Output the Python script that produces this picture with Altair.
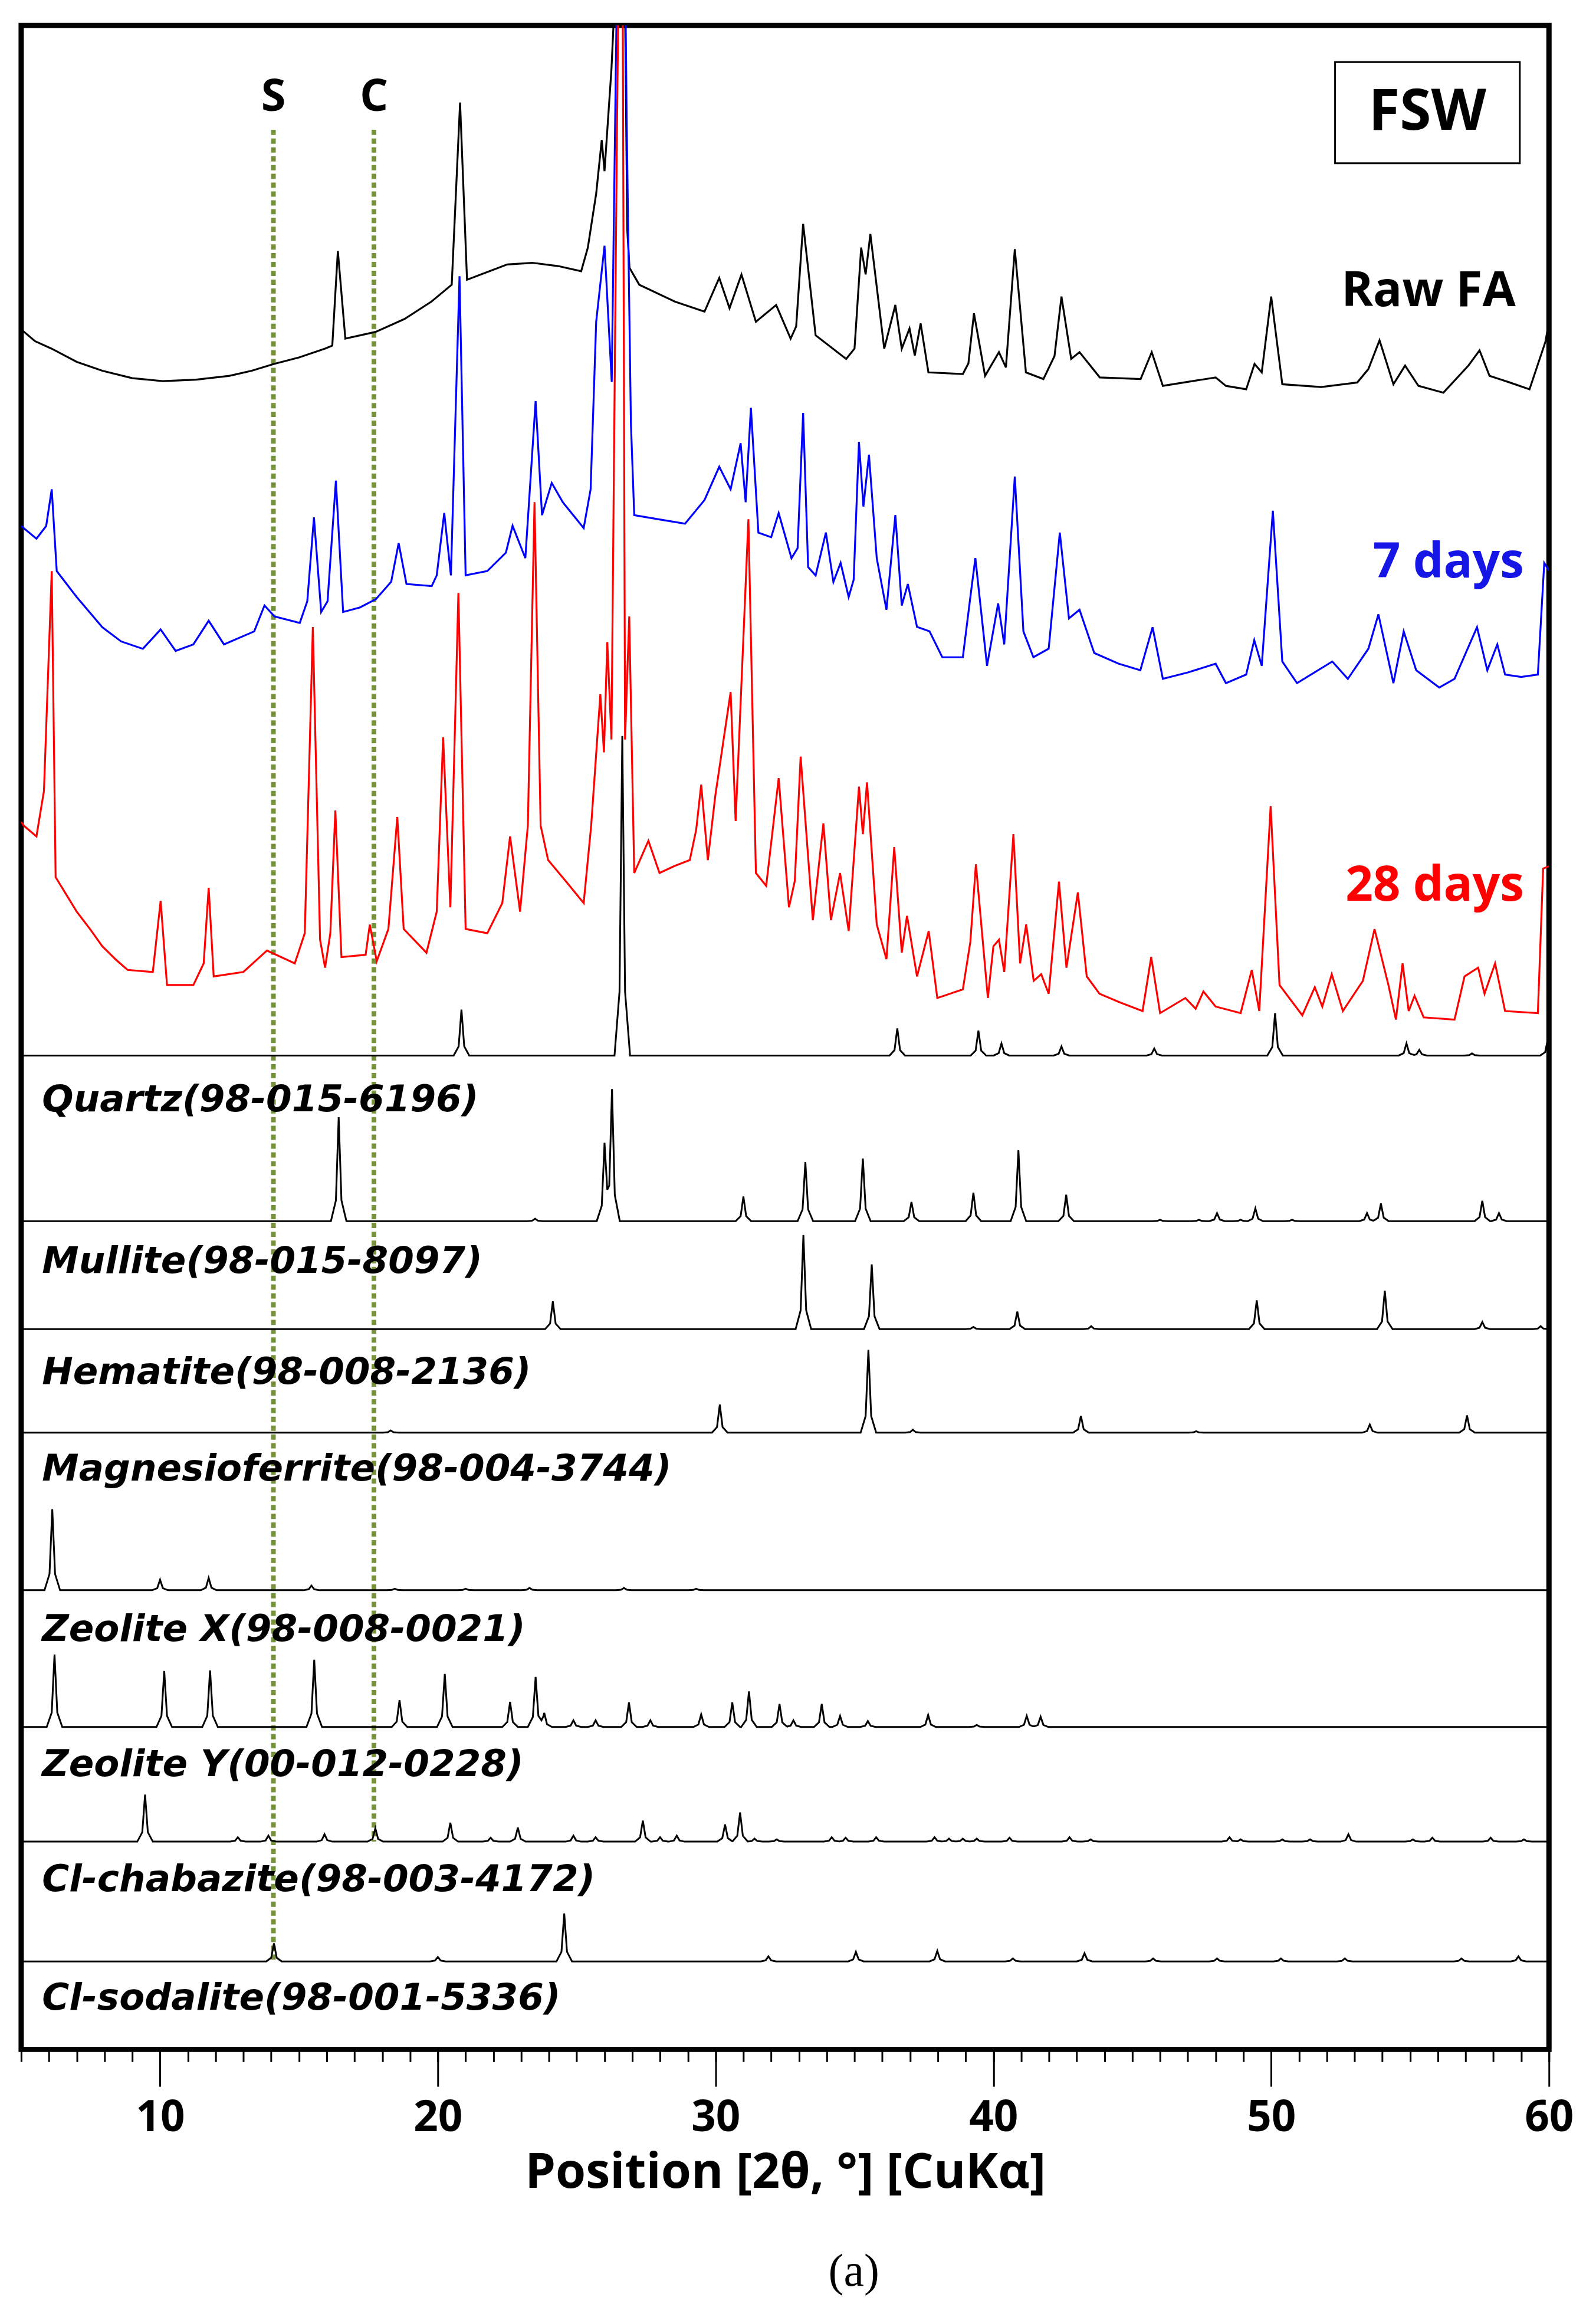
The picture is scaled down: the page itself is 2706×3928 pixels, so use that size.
import altair as alt
import numpy as np
import pandas as pd

# ---------------- experimental patterns (2theta, offset intensity in plot units) ----------------
raw_fa_x = [5.0, 5.5, 6.09, 7.0, 7.92, 9.0, 10.1, 11.3, 12.5, 13.3, 14.1, 15.0, 15.94, 16.2, 16.4, 16.67, 17.76,
            18.8, 19.77, 20.5, 20.8, 21.05, 22.5, 23.4, 24.33, 25.16, 25.4, 25.7, 25.9, 26.0, 26.25, 26.45,
            26.62, 26.82, 26.9, 27.25, 28.53, 29.6, 30.13, 30.5, 30.93, 31.45, 32.18, 32.7, 32.9, 33.15, 33.6,
            34.7, 35.0, 35.24, 35.4, 35.57, 36.07, 36.47, 36.7, 36.98, 37.17, 37.38, 37.66, 38.9, 39.1, 39.3,
            39.7, 40.2, 40.45, 40.77, 41.17, 41.8, 42.2, 42.45, 42.8, 43.1, 43.83, 45.3, 45.7, 46.1, 48.0,
            48.37, 49.1, 49.4, 49.66, 50.0, 50.4, 51.8, 53.1, 53.5, 53.9, 54.4, 54.82, 55.3, 56.2, 57.1, 57.5,
            57.86, 58.6, 59.3, 59.87, 60.0]
raw_fa_y = [1163, 1155, 1150, 1141, 1135, 1130, 1128, 1129, 1131.6, 1135, 1139.6, 1144, 1150, 1152, 1216,
            1156.7, 1161.3, 1170, 1181.8, 1193.2, 1316.4, 1196.6, 1206.9, 1208, 1205.8, 1202.3, 1218.3, 1254.8,
            1291, 1270, 1339, 1420, 1600, 1230, 1204.6, 1193.2, 1181.8, 1175, 1197.8, 1177.3, 1200.1, 1168.1,
            1179.5, 1156.7, 1165, 1234.3, 1159, 1143, 1150, 1218.3, 1200.1, 1227.5, 1149.9, 1179.5, 1149.9,
            1163.6, 1145.3, 1167, 1133.9, 1132.8, 1140, 1173.8, 1131.6, 1147.6, 1137.3, 1217.2, 1133.9, 1129.4,
            1145, 1185.2, 1143, 1147.6, 1130.5, 1129.4, 1147.6, 1124.8, 1130.5, 1124.8, 1122.5, 1139.6, 1133.9,
            1185.2, 1125.9, 1124, 1127.1, 1136.2, 1155.6, 1125.9, 1138.5, 1124.8, 1120.2, 1138.5, 1148.8, 1131.6,
            1127, 1122.5, 1154.5, 1168]

d7_x = [5.0, 5.09, 5.55, 5.9, 6.1, 6.28, 7.0, 7.92, 8.6, 9.38, 10.02, 10.56, 11.2, 11.75, 12.3, 13.39, 13.76,
        14.12, 15.03, 15.3, 15.54, 15.8, 16.03, 16.33, 16.59, 17.2, 17.77, 18.32, 18.59, 18.87, 19.78, 19.96,
        20.23, 20.47, 20.78, 21.0, 21.78, 22.45, 22.69, 23.15, 23.52, 23.75, 24.1, 24.5, 25.25, 25.5, 25.7,
        26.0, 26.26, 26.45, 26.64, 26.8, 26.95, 27.07, 27.98, 28.9, 29.6, 30.13, 30.54, 30.9, 31.08, 31.27,
        31.54, 32.0, 32.27, 32.73, 32.95, 33.15, 33.33, 33.6, 33.97, 34.24, 34.5, 34.79, 34.97, 35.16, 35.32,
        35.52, 35.8, 36.15, 36.47, 36.7, 36.92, 37.25, 37.7, 38.16, 38.9, 39.17, 39.35, 39.77, 40.17, 40.39,
        40.77, 41.08, 41.44, 41.99, 42.39, 42.72, 43.1, 43.63, 44.5, 45.29, 45.73, 46.1, 47.0, 48.0, 48.37,
        49.1, 49.39, 49.66, 50.06, 50.4, 50.93, 52.2, 52.76, 53.5, 53.86, 54.4, 54.77, 55.22, 56.05, 56.6,
        57.14, 57.41, 57.78, 58.14, 58.42, 59.0, 59.6, 59.83, 60.0]
d7_y = [1030, 1028.6, 1021.5, 1030, 1054.9, 999.6, 982, 961.6, 952, 947, 960.1, 945.6, 950, 966, 950, 958.8,
        976.3, 968.9, 964.5, 979.2, 1035.9, 971.9, 979.2, 1060.7, 971.9, 975, 980.6, 992.3, 1018.5, 990.8,
        989.4, 996.7, 1038.8, 996.7, 1198.9, 996.7, 999.6, 1012, 1030.2, 1008.3, 1114.5, 1037.4, 1059.2,
        1046.1, 1028.6, 1054.9, 1168.1, 1219.5, 1127.5, 1400, 1600, 1300, 1099.7, 1037.4, 1034.5, 1031.6,
        1047.6, 1070.1, 1054.9, 1086, 1046.1, 1110, 1025.5, 1022.5, 1038.8, 1008.3, 1015, 1106.5, 1002.3,
        996.6, 1025.6, 992.2, 1005.1, 982, 993.7, 1086.9, 1043.2, 1078.2, 1008.3, 973.4, 1037.5, 976.3,
        990.8, 961.8, 958.8, 941.3, 941.3, 982, 1008.3, 935.5, 977.7, 950, 1063.5, 958.8, 941.3, 947.1,
        1025.6, 967.6, 973.4, 944.2, 937, 932.5, 961.6, 926.7, 931, 936.9, 923.8, 929.6, 952.9, 935.5,
        1040.4, 938.4, 923.8, 938.4, 926.7, 947.1, 970.3, 923.8, 958.8, 932.5, 920.8, 926.7, 950, 961.6,
        932.5, 950, 929.6, 928, 929.6, 1005.1, 1000]

d28_x = [5.0, 5.09, 5.55, 5.82, 6.1, 6.24, 7.0, 7.5, 7.92, 8.4, 8.83, 9.74, 10.02, 10.25, 11.2, 11.57, 11.75,
         11.93, 13.0, 13.85, 14.85, 15.21, 15.5, 15.76, 15.94, 16.13, 16.31, 16.53, 17.4, 17.55, 17.8, 18.22,
         18.54, 18.77, 19.59, 19.96, 20.19, 20.45, 20.74, 21.0, 21.78, 22.32, 22.6, 22.96, 23.24, 23.48,
         23.7, 23.97, 24.6, 25.25, 25.52, 25.85, 25.98, 26.1, 26.25, 26.45, 26.62, 26.74, 26.89, 27.07, 27.58,
         27.98, 28.5, 29.07, 29.3, 29.48, 29.72, 29.99, 30.54, 30.72, 31.18, 31.45, 31.82, 32.27, 32.64,
         32.85, 33.06, 33.5, 33.88, 34.15, 34.48, 34.79, 35.16, 35.3, 35.45, 35.8, 36.15, 36.43, 36.7, 36.89,
         37.25, 37.67, 37.98, 38.9, 39.17, 39.37, 39.8, 40.0, 40.2, 40.39, 40.72, 40.96, 41.18, 41.45, 41.72,
         41.99, 42.36, 42.63, 43.04, 43.36, 43.82, 44.55, 45.37, 45.68, 46.0, 46.91, 47.28, 47.56, 48.0,
         48.9, 49.3, 49.57, 49.98, 50.3, 51.12, 51.57, 51.84, 52.18, 52.58, 53.3, 53.72, 54.22, 54.49, 54.73,
         54.95, 55.16, 55.49, 56.6, 56.96, 57.45, 57.68, 58.06, 58.42, 59.6, 59.79, 60.0]
d28_y = [830, 827.5, 820.2, 850.9, 999.5, 792.6, 769.3, 757, 745.9, 737, 729.9, 728.5, 776.6, 719.7, 719.7,
         734.3, 785.4, 725.5, 728.5, 743, 734.3, 754.7, 961.7, 750.3, 731.4, 754.7, 837.7, 738.6, 740.1, 760.5,
         735.8, 757.6, 833.3, 757.6, 741.5, 769.3, 887.2, 772.2, 984.8, 757.6, 754.7, 775.1, 820.2, 769.3,
         827.5, 1046.2, 827.5, 804.2, 790, 775.1, 827.5, 916.3, 877, 951.5, 885.7, 1300, 1600, 885.7, 968.9,
         795.4, 817.2, 795.4, 800, 804.2, 824.6, 855.2, 804.2, 847.9, 917.8, 830.5, 1034.6, 795.4, 786.7,
         859.6, 772.2, 790, 874.1, 763.5, 829, 763.5, 795.4, 756.2, 853.8, 821.7, 856.7, 760.6, 737.2, 812.9,
         741.6, 766.4, 725.5, 756.2, 710.9, 716.7, 748.9, 801.3, 710.9, 745.9, 750.3, 728.5, 821.7, 734.3,
         760.6, 722.5, 727, 713.8, 789.6, 731.4, 782.3, 725.5, 713.8, 708, 702.1, 738.6, 700.7, 710.9, 703.6,
         715.3, 705.1, 700.7, 729.9, 702.1, 840.7, 719.7, 699.2, 718.2, 705.1, 727, 702.1, 722.5, 757.5, 719.7,
         696.3, 734.3, 702.1, 712.4, 697.8, 696.3, 725.5, 731.4, 713.8, 734.3, 702.1, 700.7, 798.4, 800]

# ---------------- reference patterns: peak positions / heights, baseline level ----------------
quartz_pos = [20.85, 26.64, 36.54, 39.46, 40.29, 42.45, 45.79, 50.14, 54.87, 55.33, 57.23, 59.96]
quartz_h = [31, 216, 18.4, 16.9, 8.2, 6.1, 4.7, 28.6, 8.2, 3.8, 1.5, 11]
mullite_pos = [16.43, 23.5, 26.0, 26.27, 31.0, 33.23, 35.3, 37.05, 39.28, 40.9, 42.62, 46.0, 47.4, 48.05,
               48.9, 49.43, 50.75, 53.45, 53.95, 57.6, 58.2]
mullite_h = [70.3, 1.7, 52, 88.8, 16.7, 40, 42.4, 13, 19.3, 47.9, 17.9, 1, 1, 5.5, 1, 8.6, 1, 5.5, 12, 13.8, 5.5]
hematite_pos = [24.14, 33.16, 35.62, 39.28, 40.86, 43.52, 49.48, 54.09, 57.6, 59.7]
hematite_h = [18.8, 63.6, 43.8, 1.5, 11.9, 2, 19.5, 26, 4.8, 2]
mgfe_pos = [18.3, 30.15, 35.5, 37.1, 43.15, 47.3, 53.55, 57.05]
mgfe_h = [1.5, 19, 56, 2, 11.4, 1, 5.5, 11.7]
zeox_pos = [6.12, 10.0, 11.75, 15.45, 18.45, 21.0, 23.3, 26.7, 29.3]
zeox_h = [54.8, 7.1, 8.3, 3.1, 1, 1, 1.5, 1.5, 1]
zeoy_pos = [6.2, 10.15, 11.8, 15.55, 18.62, 20.25, 22.6, 23.52, 23.83, 24.88, 25.68, 26.88, 27.65, 29.48,
            30.6, 31.2, 32.3, 32.8, 33.82, 34.48, 35.48, 37.65, 39.4, 41.2, 41.7]
zeoy_h = [49, 37.9, 38.3, 45.4, 18.2, 35.9, 17, 33.9, 9.5, 4.5, 4.5, 16.6, 4.5, 8.5, 16.6, 24.1, 15.6, 4.5,
          15.6, 7.5, 4, 8.1, 1.4, 7.5, 6.9]
chab_pos = [9.46, 12.8, 13.9, 15.92, 17.75, 20.45, 21.9, 22.88, 24.88, 25.68, 27.38, 28.0, 28.6, 30.34, 30.88,
            31.4, 32.2, 34.18, 34.68, 35.78, 37.88, 38.4, 38.9, 39.4, 40.58, 42.74, 43.5, 48.5, 48.9, 50.4,
            51.4, 52.78, 55.1, 55.8, 57.9, 59.1]
chab_h = [31.8, 3, 4, 5, 9, 12.8, 2.6, 9.5, 4, 3, 14.2, 3, 4, 11.6, 19.7, 2, 1.5, 3, 2.6, 3, 3, 2, 2, 2, 2.6,
          3, 1.5, 3, 1.5, 1.5, 1.5, 5, 1.5, 2.6, 2.6, 1.5]
sod_pos = [14.1, 20.0, 24.55, 31.9, 35.05, 37.98, 40.7, 43.28, 45.75, 48.05, 50.35, 52.65, 56.85, 58.9]
sod_h = [12.2, 3, 32.4, 3.4, 6.5, 7.1, 2, 5.5, 2, 2, 2, 2, 2, 3.4]

ref_names = ["Quartz(98-015-6196)", "Mullite(98-015-8097)", "Hematite(98-008-2136)",
             "Magnesioferrite(98-004-3744)", "Zeolite X(98-008-0021)", "Zeolite Y(00-012-0228)",
             "Cl-chabazite(98-003-4172)", "Cl-sodalite(98-001-5336)"]
ref_base = [672, 560, 487, 417, 310.5, 218, 140.5, 59.5]
ref_label_y = [642, 532.5, 457.5, 392, 283.5, 192.5, 114.5, 34.5]
ref_peaks = [(quartz_pos, quartz_h), (mullite_pos, mullite_h), (hematite_pos, hematite_h),
             (mgfe_pos, mgfe_h), (zeox_pos, zeox_h), (zeoy_pos, zeoy_h), (chab_pos, chab_h), (sod_pos, sod_h)]

major_ticks = [10, 20, 30, 40, 50, 60]
minor_ticks = list(range(5, 61))

# ---------------- styling constants ----------------
X0, X1 = 5.0, 60.0
Y0, Y1 = 0.0, 1368.5
W, H = 2600, 3444
PEAK_DX = [-0.28, -0.1, 0.0, 0.1, 0.28]
PEAK_REL = [0.0, 0.2, 1.0, 0.2, 0.0]

# ---------------- build tables ----------------
def trace_df(xs, ys, name):
    return pd.DataFrame({"x": xs, "y": ys, "s": name, "o": range(len(xs))})

def ref_df(pos, hts, base, name):
    pos = np.asarray(pos, float)
    hts = np.asarray(hts, float)
    bp = {X0, X1}
    for p in pos:
        for d in PEAK_DX:
            if X0 <= p + d <= X1:
                bp.add(round(p + d, 4))
    bp = np.array(sorted(bp))
    yv = np.full(bp.shape, float(base))
    for p, h in zip(pos, hts):
        yv += h * np.interp(bp - p, PEAK_DX, PEAK_REL, left=0.0, right=0.0)
    return pd.DataFrame({"x": bp, "y": yv, "s": name, "o": range(len(bp))})

refs = pd.concat([ref_df(p, h, b, n) for (p, h), b, n in zip(ref_peaks, ref_base, ref_names)],
                 ignore_index=True)

xs = alt.Scale(domain=[X0, X1], nice=False, zero=False)
ys = alt.Scale(domain=[Y0, Y1], nice=False, zero=False)

major_axis = alt.Axis(
    orient="bottom", values=major_ticks, tickSize=63, tickWidth=3, tickColor="black",
    domain=False, grid=False,
    labelFont="Open Sans", labelFontSize=73, labelFontWeight="bold", labelColor="black",
    labelPadding=18, labelFlush=False,
    title="Position [2θ, °] [CuKα]", titleFont="Open Sans", titleFontSize=83,
    titleFontWeight="bold", titleColor="black", titlePadding=15,
)
minor_axis = alt.Axis(
    orient="bottom", values=minor_ticks, tickSize=21, tickWidth=3, tickColor="black",
    domain=False, grid=False, labels=False, title=None,
)

X_major = alt.X("x:Q", scale=xs, axis=major_axis)
X_minor = alt.X("x:Q", scale=xs, axis=minor_axis)
X = alt.X("x:Q", scale=xs, axis=None)
Y = alt.Y("y:Q", scale=ys, axis=None)

# dotted marker lines S and C
marker_x = [14.08, 17.7]
marker_top = [1298, 1298]
marker_bottom = [59.5, 140.5]
marker_lbl = ["S", "C"]
markers = pd.DataFrame({"x": marker_x, "y": marker_top, "y2": marker_bottom, "t": marker_lbl})
dotted = alt.Chart(markers).mark_rule(color="#76923C", strokeWidth=8, strokeDash=[9, 6]).encode(
    x=X_minor, y=Y, y2="y2:Q")
marker_text = alt.Chart(markers.assign(ty=1319.8)).mark_text(
    font="Open Sans", fontSize=76, fontWeight="bold", color="black", baseline="middle").encode(
    x=X, y=alt.Y("ty:Q", scale=ys, axis=None), text="t:N")

ref_lines = alt.Chart(refs).mark_line(color="black", strokeWidth=3, clip=True).encode(
    x=X_major, y=Y, detail="s:N", order="o:Q")

ref_labels = alt.Chart(pd.DataFrame({"x": [5.75] * 8, "y": ref_label_y, "t": ref_names})).mark_text(
    font="DejaVu Sans", fontSize=63, fontWeight="bold", fontStyle="italic", align="left",
    baseline="middle", color="black").encode(x=X, y=Y, text="t:N")

def exp_layer(df, color):
    return alt.Chart(df).mark_line(color=color, strokeWidth=3.2, clip=True).encode(x=X, y=Y, order="o:Q")

black = exp_layer(trace_df(raw_fa_x, raw_fa_y, "Raw FA"), "black")
blue = exp_layer(trace_df(d7_x, d7_y, "7 days"), "#0000FF")
red = exp_layer(trace_df(d28_x, d28_y, "28 days"), "#FF0000")

series_lbl = pd.DataFrame({"x": [58.8, 59.1, 59.1], "y": [1188.6, 1005.3, 786.5],
                           "t": ["Raw FA", "7 days", "28 days"], "c": ["#000000", "#1515E6", "#FF0000"]})
series_text = alt.Chart(series_lbl).mark_text(
    font="Open Sans", fontSize=82, fontWeight="bold", align="right", baseline="middle").encode(
    x=X, y=Y, text="t:N", color=alt.Color("c:N", scale=None))

fsw_box = alt.Chart(pd.DataFrame({"x": [52.3], "x2": [58.95], "y": [1275.3], "y2": [1343.7]})).mark_rect(
    fillOpacity=0, stroke="black", strokeWidth=3).encode(x=X, x2="x2:Q", y=Y, y2="y2:Q")
fsw_text = alt.Chart(pd.DataFrame({"x": [55.62], "y": [1309.5], "t": ["FSW"]})).mark_text(
    font="Open Sans", fontSize=97, fontWeight="bold", color="black", baseline="middle").encode(
    x=X, y=Y, text="t:N")

chart = alt.layer(
    dotted, ref_lines, black, blue, red, marker_text, ref_labels, series_text, fsw_box, fsw_text
).resolve_axis(x="independent").properties(
    width=W, height=H,
    background="white",
    padding={"left": 26, "top": 28, "right": 30, "bottom": 10},
    title=alt.TitleParams("(a)", orient="bottom", font="Liberation Serif", fontSize=78,
                          fontWeight="normal", color="black", dx=117, offset=88),
).configure_view(stroke="black", strokeWidth=9)

chart.save("out.html", embed_options={"renderer": "svg", "actions": False})
